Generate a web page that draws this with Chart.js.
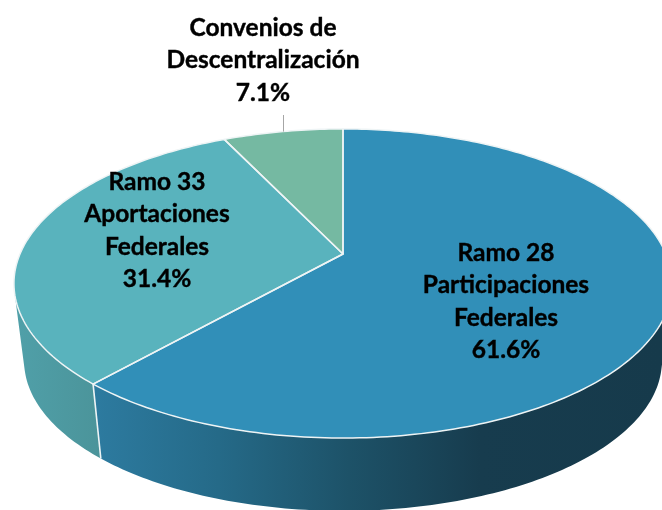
<!DOCTYPE html>
<html><head><meta charset="utf-8">
<style>html,body{margin:0;padding:0;background:#fff;overflow:hidden}#w{position:relative;width:662px;height:510px}</style>
<script src="https://cdn.jsdelivr.net/npm/chart.js@4"></script>
</head><body><div id="w"><canvas id="c" width="662" height="510"></canvas></div>
<script>
const categories = ["Ramo 28 Participaciones Federales", "Ramo 33 Aportaciones Federales", "Convenios de Descentralización"];
const values = [61.6, 31.4, 7.1];
const labelLines = [
  ["Ramo 28", "Participaciones", "Federales", "61.6%"],
  ["Ramo 33", "Aportaciones", "Federales", "31.4%"],
  ["Convenios de", "Descentralización", "7.1%"]
];
const topColors = ["#318FB8", "#59B3BD", "#75B9A2"];
const labelCentres = [[506, 253], [157, 182], [263, 28]];

// perspective of the tilted disc, and the offset of its lower rim
const persp = 0.191, squash = 0.461, rimScale = 0.969, rimDrop = 78.5;

function pt(arc, a, rim) {
  const X = Math.cos(a), Z = Math.sin(a), d = 1 - persp * Z, R = arc.outerRadius;
  const s = rim ? rimScale : 1;
  return [arc.x + s * R * X / d, arc.y + (rim ? rimDrop : 0) + s * R * squash * Z / d];
}
function samples(arc) {
  const n = Math.max(2, Math.ceil((arc.endAngle - arc.startAngle) * 180 / Math.PI));
  const out = [];
  for (let i = 0; i <= n; i++) out.push(arc.startAngle + (arc.endAngle - arc.startAngle) * i / n);
  return out;
}
function faces(arc, a) {
  const e = 0.002, p0 = pt(arc, a - e), p1 = pt(arc, a + e), r = pt(arc, a, true), t = pt(arc, a);
  return (p1[0] - p0[0]) * (r[1] - t[1]) - (p1[1] - p0[1]) * (r[0] - t[0]) < 0;
}
function wallFill(ctx, i) {
  if (i === 0) {
    const g = ctx.createLinearGradient(93, 0, 662, 0);
    g.addColorStop(0, "#2D7BA0"); g.addColorStop(0.22, "#256A88");
    g.addColorStop(0.45, "#1D5268"); g.addColorStop(0.68, "#173C4E"); g.addColorStop(1, "#163A4B");
    return g;
  }
  if (i === 1) {
    const g = ctx.createLinearGradient(14, 0, 100, 0);
    g.addColorStop(0, "#50A0A9"); g.addColorStop(1, "#4B949A");
    return g;
  }
  return "#5F9884";
}
const disc3d = {
  id: "disc3d",
  beforeDatasetsDraw(chart) {
    const ctx = chart.ctx, arcs = chart.getDatasetMeta(0).data;
    ctx.save();
    // side wall
    arcs.forEach((arc, i) => {
      const as = samples(arc).filter(a => faces(arc, a));
      if (as.length < 2) return;
      ctx.beginPath();
      as.forEach((a, k) => { const p = pt(arc, a); k ? ctx.lineTo(p[0], p[1]) : ctx.moveTo(p[0], p[1]); });
      as.slice().reverse().forEach(a => { const p = pt(arc, a, true); ctx.lineTo(p[0], p[1]); });
      ctx.closePath();
      ctx.fillStyle = wallFill(ctx, i);
      ctx.fill();
    });
    // divider on the wall between slices
    const first = arcs[0];
    const t = pt(first, first.endAngle), b = pt(first, first.endAngle, true);
    ctx.strokeStyle = "#EEF4F5"; ctx.lineWidth = 1.6;
    ctx.beginPath(); ctx.moveTo(t[0], t[1]); ctx.lineTo(b[0], b[1]); ctx.stroke();
    // top faces
    arcs.forEach((arc, i) => {
      ctx.beginPath();
      ctx.moveTo(arc.x, arc.y);
      samples(arc).forEach(a => { const p = pt(arc, a); ctx.lineTo(p[0], p[1]); });
      ctx.closePath();
      ctx.fillStyle = topColors[i];
      ctx.fill();
    });
    arcs.forEach(arc => {
      ctx.beginPath();
      ctx.moveTo(arc.x, arc.y);
      samples(arc).forEach(a => { const p = pt(arc, a); ctx.lineTo(p[0], p[1]); });
      ctx.closePath();
      ctx.lineJoin = "round";
      ctx.strokeStyle = "#EEF4F5"; ctx.lineWidth = 1.5;
      ctx.stroke();
    });
    ctx.restore();
    return false;
  },
  afterDraw(chart) {
    const ctx = chart.ctx;
    ctx.save();
    // leader line of the outside label
    const arc = chart.getDatasetMeta(0).data[2];
    const mid = pt(arc, (arc.startAngle + arc.endAngle) / 2);
    ctx.strokeStyle = "#A6A6A6"; ctx.lineWidth = 1;
    ctx.beginPath(); ctx.moveTo(Math.round(mid[0]) + 0.5, 115); ctx.lineTo(Math.round(mid[0]) + 0.5, mid[1]); ctx.stroke();
    ctx.fillStyle = "#000";
    ctx.strokeStyle = "#000"; ctx.lineWidth = 0.4;
    ctx.font = "bold 24.5px Lato, Carlito, sans-serif";
    ctx.textAlign = "center"; ctx.textBaseline = "middle";
    labelLines.forEach((lines, i) => lines.forEach((s, k) => {
      ctx.fillText(s, labelCentres[i][0], labelCentres[i][1] + k * 32.3);
      ctx.strokeText(s, labelCentres[i][0], labelCentres[i][1] + k * 32.3);
    }));
    ctx.restore();
  }
};
new Chart(document.getElementById("c"), {
  type: "pie",
  data: { labels: categories, datasets: [{ data: values, backgroundColor: topColors, radius: 323, clip: false, borderWidth: 0 }] },
  options: {
    responsive: false, animation: false, events: [],
    layout: { padding: { left: 24, right: 0, top: 0, bottom: 2 } },
    plugins: { legend: { display: false }, tooltip: { enabled: false }, title: { display: false } }
  },
  plugins: [disc3d]
});
</script></body></html>
